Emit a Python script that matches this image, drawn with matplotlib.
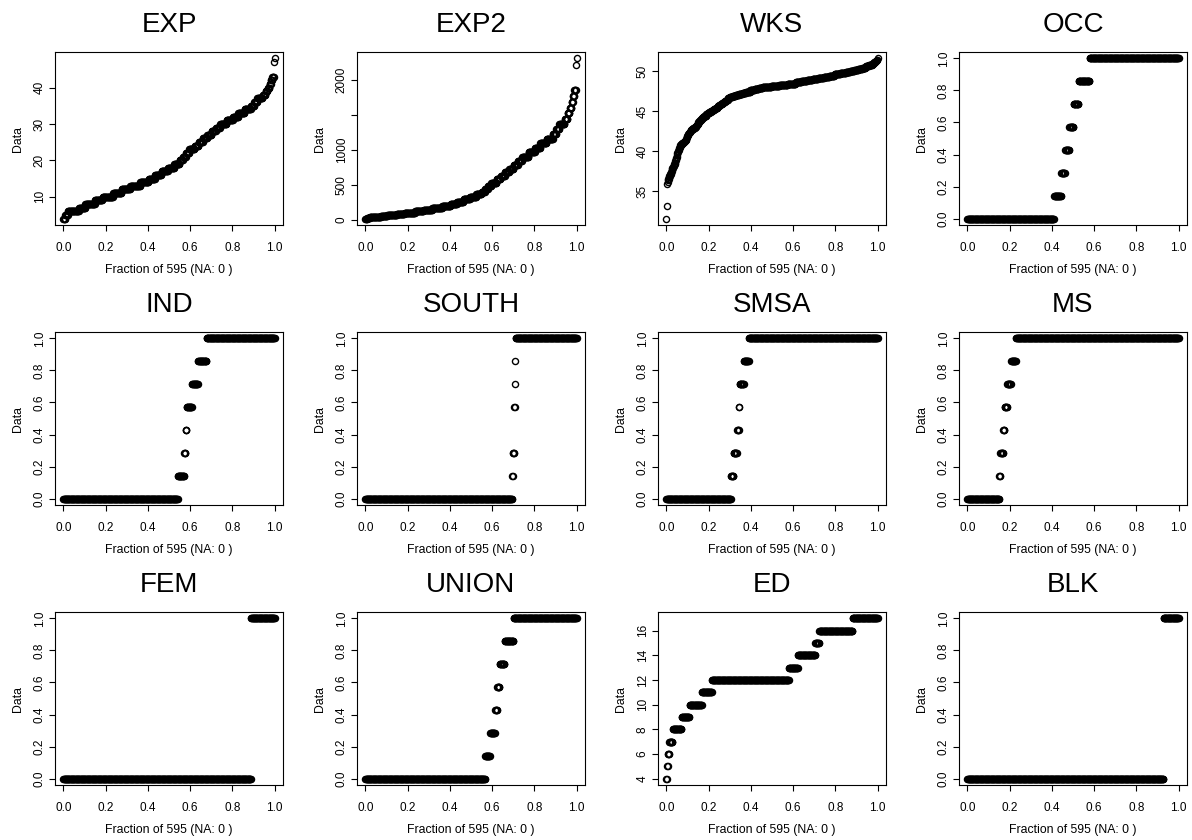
import numpy as np
import matplotlib
matplotlib.use("Agg")
import matplotlib.pyplot as plt

plt.rcParams['font.family'] = ['Liberation Sans', 'DejaVu Sans']

# ------------------------
# data (595 people)
# ------------------------
panel_names = ["EXP", "EXP2", "WKS", "OCC",
               "IND", "SOUTH", "SMSA", "MS",
               "FEM", "UNION", "ED", "BLK"]

# years of experience -> how many people
exp_values = [4, 5, 6, 7, 8, 9, 10, 11, 12, 13, 14, 15, 16, 17, 18, 19, 20, 21, 22, 23,
              24, 25, 26, 27, 28, 29, 30, 31, 32, 33, 34, 35, 36, 37, 38, 39, 40, 41, 42, 43,
              47, 48]
exp_counts = [5, 8, 31, 18, 27, 21, 30, 24, 24, 28, 24, 18, 18, 18, 18, 15, 9, 9, 9, 15,
              12, 12, 12, 12, 12, 12, 18, 18, 15, 18, 18, 9, 9, 15, 8, 6, 5, 4, 4, 5,
              1, 1]
# squared experience (same people as exp_counts)
exp2_values = [20, 29, 40, 53, 68, 85, 104, 125, 148, 173, 200, 229, 260, 293, 328, 365, 404, 445, 488, 533,
               580, 629, 680, 733, 788, 845, 904, 965, 1028, 1093, 1160, 1229, 1300, 1373, 1448, 1525, 1604, 1685, 1768, 1853,
               2213, 2308]

# weeks worked, summed over the 7 years
wks_total = [221, 232, 251, 253, 255, 256, 257, 258, 259, 260, 261,
             262, 263, 264, 265, 266, 267, 268, 269, 270, 271, 272, 273,
             274, 275, 277, 278, 279, 280, 281, 282, 283,
             284, 285, 286, 287, 288, 289, 290, 291, 292, 293, 294, 295, 296,
             297, 298, 299, 300, 301, 302, 303, 304, 305, 306, 307, 308, 309,
             310, 311, 312, 313, 314, 315, 316, 317, 318, 319,
             320, 321, 322, 323, 324, 325, 326, 327, 328, 329, 330, 331,
             332, 333, 334, 335, 336, 337, 338, 339, 340, 341, 342,
             343, 344, 345, 346, 347, 348, 349, 350, 351, 352,
             353, 354, 355, 356, 357, 358, 359, 360, 361]
wks_counts = [1, 1, 1, 1, 1, 2, 1, 2, 1, 2, 1,
              1, 1, 1, 2, 1, 1, 1, 2, 1, 1, 1, 1,
              1, 1, 1, 1, 1, 1, 1, 1, 1,
              2, 3, 3, 3, 3, 3, 2, 1, 2, 1, 2, 1, 2,
              3, 4, 4, 4, 3, 2, 3, 2, 3, 2, 3, 2, 3,
              4, 5, 4, 5, 4, 5, 4, 5, 5, 5,
              4, 4, 4, 4, 4, 4, 5, 8, 9, 9, 10, 10,
              12, 12, 12, 11, 24, 23, 23, 23, 16, 16, 15,
              16, 16, 15, 15, 16, 16, 12, 12, 11, 11,
              10, 9, 9, 3, 3, 4, 3, 2, 1]

# dummies averaged over 7 years: number of years (0..7) -> how many people
years_of_7 = [0, 1, 2, 3, 4, 5, 6, 7]
occ_counts = [244, 20, 11, 12, 12, 14, 31, 251]
ind_counts = [322, 18, 4, 3, 15, 17, 24, 192]
south_counts = [413, 2, 4, 0, 2, 1, 1, 172]
smsa_counts = [182, 7, 10, 5, 2, 12, 14, 363]
ms_counts = [90, 3, 8, 4, 7, 11, 14, 458]
union_counts = [337, 14, 14, 6, 7, 14, 25, 178]
fem_counts = [528, 0, 0, 0, 0, 0, 0, 67]
blk_counts = [552, 0, 0, 0, 0, 0, 0, 43]

# years of education
ed_values = [4, 5, 6, 7, 8, 9, 10, 11, 12, 13, 14, 15, 16, 17]
ed_counts = [2, 2, 4, 10, 25, 22, 35, 28, 217, 25, 49, 11, 94, 71]

# y ticks as drawn (empty string = tick without label)
share_ticks = [0.0, 0.2, 0.4, 0.6, 0.8, 1.0]
y_ticks = {
    "EXP": ([10, 20, 30, 40], ["10", "20", "30", "40"]),
    "EXP2": ([0, 500, 1000, 1500, 2000], ["0", "500", "1000", "", "2000"]),
    "WKS": ([35, 40, 45, 50], ["35", "40", "45", "50"]),
    "ED": ([4, 6, 8, 10, 12, 14, 16], ["4", "6", "8", "10", "12", "14", "16"]),
}
x_ticks = [0.0, 0.2, 0.4, 0.6, 0.8, 1.0]

# ------------------------
# expand counts into sorted samples
# ------------------------
shares = np.array(years_of_7) / 7.0
series = {
    "EXP": np.repeat(exp_values, exp_counts),
    "EXP2": np.repeat(exp2_values, exp_counts),
    "WKS": np.repeat(np.array(wks_total) / 7.0, wks_counts),
    "OCC": np.repeat(shares, occ_counts),
    "IND": np.repeat(shares, ind_counts),
    "SOUTH": np.repeat(shares, south_counts),
    "SMSA": np.repeat(shares, smsa_counts),
    "MS": np.repeat(shares, ms_counts),
    "FEM": np.repeat(shares, fem_counts),
    "UNION": np.repeat(shares, union_counts),
    "ED": np.repeat(ed_values, ed_counts),
    "BLK": np.repeat(shares, blk_counts),
}

# ------------------------
# figure
# ------------------------
W, H = 1192, 840
col_left = [55, 357, 658, 959]
row_top = [52, 332, 612]
box_w, box_h = 228, 173

fig = plt.figure(figsize=(W / 100, H / 100), dpi=100)

for i, name in enumerate(panel_names):
    r, c = divmod(i, 4)
    ax = fig.add_axes([col_left[c] / W, 1 - (row_top[r] + box_h) / H, box_w / W, box_h / H])
    y = np.sort(series[name])
    n = len(y)
    x = np.arange(n) / (n - 1)
    ax.plot(x, y, 'o', ms=4.4, mfc='none', mec='black', mew=1.0)

    ax.set_xlim(-0.04, 1.04)
    lo, hi = y.min(), y.max()
    pad = (hi - lo) * 0.04
    ax.set_ylim(lo - pad, hi + pad)

    ax.set_xticks(x_ticks)
    ax.set_xticklabels(["%.1f" % t for t in x_ticks])
    if name in y_ticks:
        ticks, labels = y_ticks[name]
    else:
        ticks, labels = share_ticks, ["%.1f" % t for t in share_ticks]
    ax.set_yticks(ticks)
    ax.set_yticklabels(labels)

    ax.tick_params(axis='both', direction='out', length=4.1, width=0.8,
                   labelsize=8.5, color='black')
    ax.tick_params(axis='x', pad=8)
    ax.tick_params(axis='y', pad=2.5, labelrotation=90)
    for lab in ax.get_yticklabels():
        lab.set_verticalalignment('center')

    for s in ax.spines.values():
        s.set_linewidth(0.8)
        s.set_color('black')

    ax.text(0.5, 1 + 27 / box_h, name, transform=ax.transAxes,
            ha='center', va='center', fontsize=20)
    ax.text(0.5, -45 / box_h, "Fraction of %d (NA: 0 )" % n, transform=ax.transAxes,
            ha='center', va='center', fontsize=8.8)
    ax.text(-37 / box_w, 0.5, "Data", transform=ax.transAxes, rotation=90,
            ha='center', va='center', fontsize=8.8)

fig.savefig("out.png", dpi=100, facecolor='white')
